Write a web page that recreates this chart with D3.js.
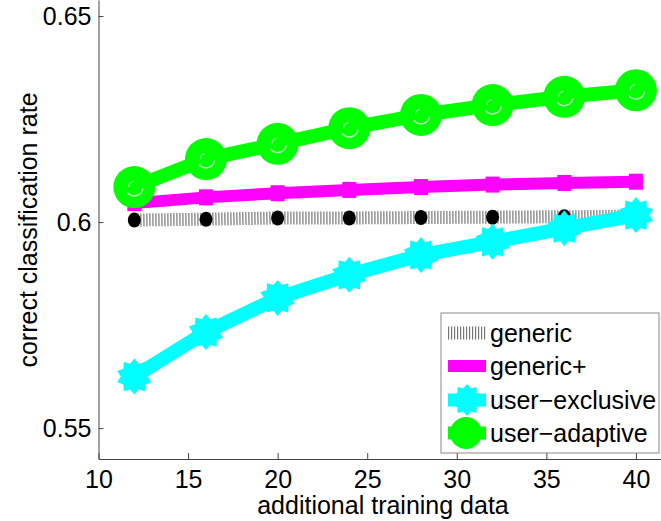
<!DOCTYPE html>
<html>
<head>
<meta charset="utf-8">
<script src="https://cdn.jsdelivr.net/npm/d3@7"></script>
<style>
  body { margin: 0; background: #fff; }
  text { font-family: "Liberation Sans", Arial, sans-serif; fill: #000; }
</style>
</head>
<body>
<svg id="graph" width="661" height="521"></svg>
<script>
// datos
var trainData = [12, 16, 20, 24, 28, 32, 36, 40];
var generic = [0.6005, 0.6007, 0.6010, 0.6010, 0.6011, 0.6012, 0.6013, 0.6014];
var genericPlus = [0.6046, 0.6060, 0.6070, 0.6078, 0.6085, 0.6091, 0.6095, 0.6098];
var userExclusive = [0.5625, 0.5733, 0.5816, 0.5872, 0.5920, 0.5952, 0.5985, 0.6017];
var userAdaptive = [0.6085, 0.6153, 0.6190, 0.6228, 0.6260, 0.6284, 0.6304, 0.6320];
var xTicks = [10, 15, 20, 25, 30, 35, 40];
var yTicks = [0.55, 0.6, 0.65];
var yTickLabels = ["0.55", "0.6", "0.65"];
var legendNames = ["generic", "generic+", "user\u2212exclusive", "user\u2212adaptive"];

var svg = d3.select("#graph");
var FS = 25;

var x = d3.scaleLinear().domain([10, 41.4]).range([98.5, 661]);
var y = d3.scaleLinear().domain([0.5425, 0.6539]).range([459, 0]);

var line = d3.line().x(d => x(d[0])).y(d => y(d[1]));
function pares(vals) { return trainData.map((t, i) => [t, vals[i]]); }

// estrella de muchas puntas (como el pentagram grueso de matlab)
function starPath(R, r) {
    var pts = [];
    for (var i = 0; i < 20; i++) {
        pts.push([i * Math.PI / 10, i % 2 === 0 ? R : r]);
    }
    return d3.lineRadial().curve(d3.curveLinearClosed)(pts);
}
var smile = d3.arc().innerRadius(8).outerRadius(9.5).startAngle(Math.PI * 0.55).endAngle(Math.PI * 1.3);
var smile2 = d3.arc().innerRadius(5).outerRadius(6.2).startAngle(Math.PI * 1.5).endAngle(Math.PI * 1.95);

// ejes
var gx = svg.append("g").attr("class", "xaxis").attr("transform", "translate(0,459)")
    .call(d3.axisBottom(x).tickValues(xTicks).tickSizeInner(-6).tickSizeOuter(0).tickPadding(11));
gx.select(".domain").attr("stroke", "#444");
gx.selectAll(".tick line").attr("stroke", "#444");
gx.selectAll("text").style("font-size", FS + "px").attr("dy", "0.71em");

var gy = svg.append("g").attr("class", "yaxis").attr("transform", "translate(98.5,0)")
    .call(d3.axisLeft(y).tickValues(yTicks).tickFormat((d, i) => yTickLabels[i])
        .tickSizeInner(-5).tickSizeOuter(0).tickPadding(7));
gy.select(".domain").attr("stroke", "#444");
gy.selectAll(".tick line").attr("stroke", "#444");
gy.selectAll("text").style("font-size", FS + "px");

svg.append("text").attr("x", 383).attr("y", 505).attr("text-anchor", "middle")
    .attr("dominant-baseline", "central").style("font-size", FS + "px")
    .text("additional training data");
svg.append("text").attr("transform", "translate(28,230) rotate(-90)")
    .attr("text-anchor", "middle").attr("dominant-baseline", "central")
    .style("font-size", FS + "px").text("correct classification rate");

var plot = svg.append("g");

// generic: linea punteada gruesa + puntos negros
plot.append("path").datum(pares(generic)).attr("d", line)
    .attr("fill", "none").attr("stroke", "#777").attr("stroke-width", 13)
    .attr("stroke-dasharray", "1.2,1.8");
plot.selectAll(".gen").data(pares(generic)).enter().append("ellipse")
    .attr("cx", d => x(d[0])).attr("cy", d => y(d[1])).attr("rx", 6.5).attr("ry", 7.5)
    .attr("fill", "#000");

// generic+
plot.append("path").datum(pares(genericPlus)).attr("d", line)
    .attr("fill", "none").attr("stroke", "#ff00ff").attr("stroke-width", 12);
plot.selectAll(".gp").data(pares(genericPlus)).enter().append("rect")
    .attr("x", d => x(d[0]) - 7).attr("y", d => y(d[1]) - 8).attr("width", 14).attr("height", 16)
    .attr("fill", "#ff00ff");

// user-exclusive
plot.append("path").datum(pares(userExclusive)).attr("d", line)
    .attr("fill", "none").attr("stroke", "#00ffff").attr("stroke-width", 14);
plot.selectAll(".ue").data(pares(userExclusive)).enter().append("path")
    .attr("transform", d => "translate(" + x(d[0]) + "," + y(d[1]) + ")")
    .attr("d", starPath(18, 13.5)).attr("fill", "#00ffff");

// user-adaptive
plot.append("path").datum(pares(userAdaptive)).attr("d", line)
    .attr("fill", "none").attr("stroke", "#00ff00").attr("stroke-width", 14);
var ua = plot.selectAll(".ua").data(pares(userAdaptive)).enter().append("g")
    .attr("transform", d => "translate(" + x(d[0]) + "," + y(d[1]) + ")");
ua.append("circle").attr("r", 21).attr("fill", "#00ff00");
ua.append("path").attr("d", smile).attr("fill", "#fff").attr("opacity", 0.7);
ua.append("path").attr("d", smile2).attr("fill", "#fff").attr("opacity", 0.6);

// leyenda
var leg = svg.append("g");
leg.append("rect").attr("x", 441).attr("y", 313).attr("width", 218).attr("height", 140)
    .attr("fill", "#fff").attr("stroke", "#888").attr("stroke-width", 1);
var rows = [333, 366, 400, 433];
leg.append("line").attr("x1", 448).attr("x2", 486).attr("y1", rows[0]).attr("y2", rows[0])
    .attr("stroke", "#777").attr("stroke-width", 13).attr("stroke-dasharray", "1.2,1.8");
leg.append("line").attr("x1", 448).attr("x2", 486).attr("y1", rows[1]).attr("y2", rows[1])
    .attr("stroke", "#ff00ff").attr("stroke-width", 12);
leg.append("line").attr("x1", 448).attr("x2", 486).attr("y1", rows[2]).attr("y2", rows[2])
    .attr("stroke", "#00ffff").attr("stroke-width", 13);
leg.append("path").attr("transform", "translate(467," + rows[2] + ")")
    .attr("d", starPath(16, 12)).attr("fill", "#00ffff");
leg.append("line").attr("x1", 448).attr("x2", 486).attr("y1", rows[3]).attr("y2", rows[3])
    .attr("stroke", "#00ff00").attr("stroke-width", 13);
leg.append("circle").attr("cx", 466).attr("cy", rows[3]).attr("r", 16).attr("fill", "#00ff00");
leg.selectAll(".lt").data(legendNames).enter().append("text")
    .attr("x", 490).attr("y", (d, i) => rows[i]).attr("dominant-baseline", "central")
    .style("font-size", FS + "px").text(d => d);
</script>
</body>
</html>
